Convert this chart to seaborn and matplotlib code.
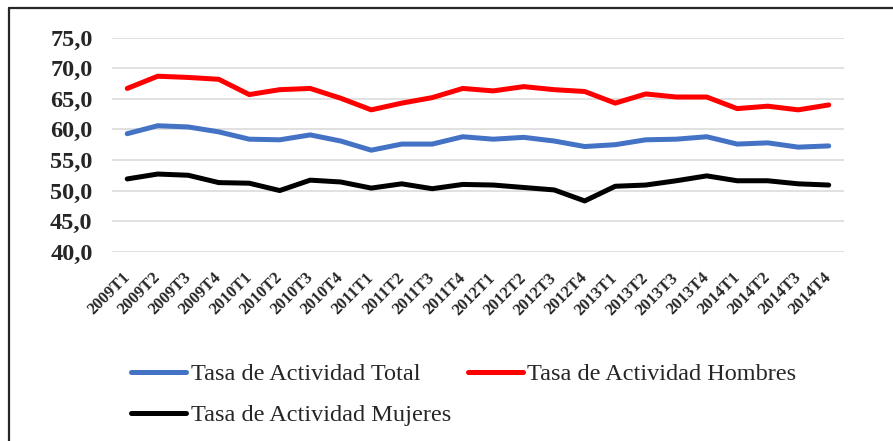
import pandas as pd
import matplotlib
matplotlib.use("Agg")
import matplotlib.pyplot as plt
import seaborn as sns
from matplotlib.lines import Line2D
from matplotlib.ticker import FuncFormatter

# Data
quarters = ["2009T1", "2009T2", "2009T3", "2009T4",
            "2010T1", "2010T2", "2010T3", "2010T4",
            "2011T1", "2011T2", "2011T3", "2011T4",
            "2012T1", "2012T2", "2012T3", "2012T4",
            "2013T1", "2013T2", "2013T3", "2013T4",
            "2014T1", "2014T2", "2014T3", "2014T4"]

tasa_total = [59.3, 60.6, 60.4, 59.6, 58.4, 58.3, 59.1, 58.1,
              56.6, 57.6, 57.6, 58.8, 58.4, 58.7, 58.1, 57.2,
              57.5, 58.3, 58.4, 58.8, 57.6, 57.8, 57.1, 57.3]

tasa_hombres = [66.7, 68.7, 68.5, 68.2, 65.7, 66.5, 66.7, 65.1,
                63.2, 64.3, 65.2, 66.7, 66.3, 67.0, 66.5, 66.2,
                64.3, 65.8, 65.3, 65.3, 63.4, 63.8, 63.2, 64.0]

tasa_mujeres = [51.9, 52.7, 52.5, 51.3, 51.2, 50.0, 51.7, 51.4,
                50.4, 51.1, 50.3, 51.0, 50.9, 50.5, 50.1, 48.3,
                50.7, 50.9, 51.6, 52.4, 51.6, 51.6, 51.1, 50.9]

series = {
    "Tasa de Actividad Total": tasa_total,
    "Tasa de Actividad Hombres": tasa_hombres,
    "Tasa de Actividad Mujeres": tasa_mujeres,
}
colors = {
    "Tasa de Actividad Total": "#4472C4",
    "Tasa de Actividad Hombres": "#FF0000",
    "Tasa de Actividad Mujeres": "#000000",
}

df = pd.DataFrame({"Trimestre": quarters, **series})
df["pos"] = range(len(quarters))
long_df = df.melt(id_vars=["Trimestre", "pos"], var_name="Serie", value_name="Tasa")

sns.set_style("white")
plt.rcParams["font.family"] = ["Liberation Serif", "DejaVu Serif"]

fig = plt.figure(figsize=(8.93, 4.41), dpi=100, facecolor="white")
ax = fig.add_axes([0.1254, 0.4293, 0.8197, 0.4852])

sns.lineplot(data=long_df, x="pos", y="Tasa", hue="Serie",
             palette=colors, linewidth=3.6, legend=False, ax=ax,
             solid_capstyle="round")

ax.set_xlim(-0.5, len(quarters) - 0.5)
ax.set_ylim(40, 75)
ax.set_yticks(range(40, 76, 5))
ax.yaxis.set_major_formatter(FuncFormatter(lambda v, p: f"{v:.1f}".replace(".", ",")))
ax.set_xticks(df["pos"])
ax.set_xticklabels(quarters, rotation=45, ha="right", va="center",
                   rotation_mode="anchor", fontsize=12, fontweight="bold")
for lab in ax.get_yticklabels():
    lab.set_fontweight("bold")
    lab.set_fontsize(17.5)

ax.tick_params(axis="both", length=0)
ax.tick_params(axis="y", pad=14)
ax.tick_params(axis="x", pad=17)
ax.set_xlabel("")
ax.set_ylabel("")
ax.yaxis.grid(True, color="#D9D9D9", linewidth=1.1)
ax.xaxis.grid(False)
ax.set_axisbelow(True)
for s in ax.spines.values():
    s.set_visible(False)

# legend, rows: Total + Hombres, then Mujeres
order = ["Tasa de Actividad Total", "Tasa de Actividad Mujeres", "Tasa de Actividad Hombres"]
handles = [Line2D([0], [0], color=colors[k], linewidth=3.6, solid_capstyle="round") for k in order]
fig.legend(handles, order, loc="upper left", bbox_to_anchor=(131 / 893, 1 - 363 / 441),
           ncol=2, frameon=False, fontsize=17.5, handlelength=2.25, handletextpad=0.2,
           columnspacing=0.7, labelspacing=0.8, borderpad=0, borderaxespad=0)

# outer chart border (cut off at the right and bottom)
fig.add_artist(Line2D([9 / 893, 1.0], [1 - 8 / 441, 1 - 8 / 441], color="#262626",
                      linewidth=1.6, transform=fig.transFigure))
fig.add_artist(Line2D([9 / 893, 9 / 893], [0.0, 1 - 8 / 441], color="#262626",
                      linewidth=1.6, transform=fig.transFigure))

fig.savefig("out.png", dpi=100, facecolor="white")
